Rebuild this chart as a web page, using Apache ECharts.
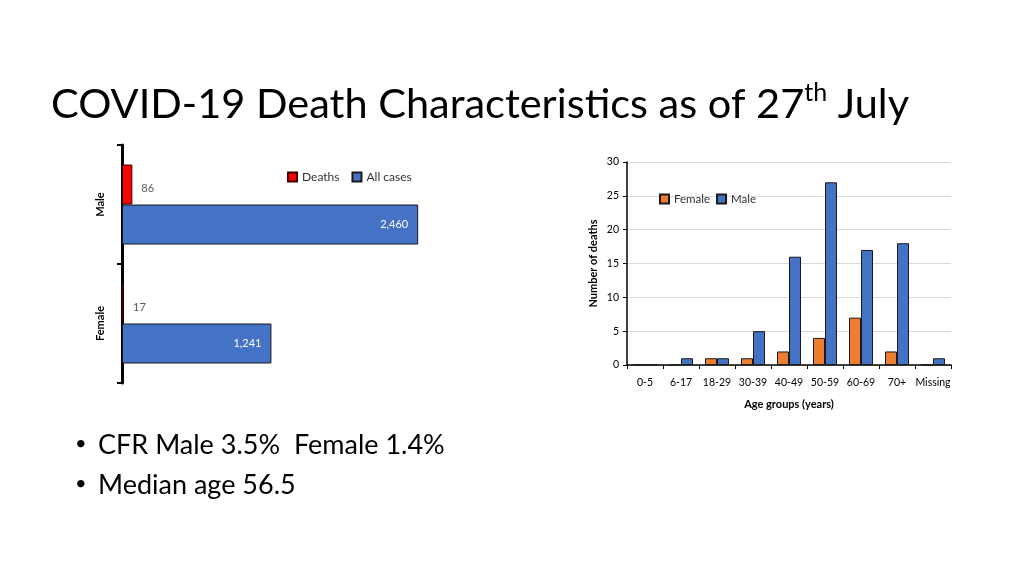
<!DOCTYPE html>
<html><head><meta charset="utf-8">
<script src="https://cdn.jsdelivr.net/npm/echarts@6/dist/echarts.min.js"></script>
<style>html,body{margin:0;padding:0;background:#fff}#c{width:1024px;height:576px}</style>
</head><body><div id="c"></div>
<script>
// Left chart: deaths vs all cases by sex
const sexCategories = ['Male', 'Female'];
const deathsBySex = [86, 17];
const allCasesBySex = [2460, 1241];
// Right chart: deaths by age group
const ageGroups = ['0-5', '6-17', '18-29', '30-39', '40-49', '50-59', '60-69', '70+', 'Missing'];
const femaleDeaths = [0, 0, 1, 1, 2, 4, 7, 2, 0];
const maleDeaths = [0, 1, 1, 5, 16, 27, 17, 18, 1];
const yTicksMax = 30, yTickStep = 5;
const bullets = ['CFR Male 3.5%  Female 1.4%', 'Median age 56.5'];

const FONT = 'Lato';
const fmt = v => Number(v).toLocaleString('en-US');
const chart = echarts.init(document.getElementById('c'), null, {renderer: 'canvas'});
chart.setOption({
  backgroundColor: '#fff',
  textStyle: {fontFamily: FONT},
  graphic: [
    {type: 'text', left: 51, top: 80, style: {
      text: '{a|COVID-19 Death Characteristics as of 27}{s|th}{a| July}',
      rich: {
        a: {fontFamily: FONT, fontSize: 41.5, fill: '#000', lineHeight: 50},
        s: {fontFamily: FONT, fontSize: 25, fill: '#000', verticalAlign: 'top', lineHeight: 50, padding: [0, 0, 20, 0]}
      }}},
    {type: 'text', left: 75, top: 434, style: {text: '•', font: '20px ' + FONT, fill: '#000'}},
    {type: 'text', left: 98, top: 432, style: {text: bullets[0], font: '27px ' + FONT, fill: '#000'}},
    {type: 'text', left: 75, top: 474, style: {text: '•', font: '20px ' + FONT, fill: '#000'}},
    {type: 'text', left: 98, top: 472, style: {text: bullets[1], font: '27px ' + FONT, fill: '#000'}}
  ],
  legend: [
    {data: ['Deaths', 'All cases'], left: 282, top: 166, itemWidth: 9, itemHeight: 9, itemGap: 12,
      textStyle: {fontSize: 12, color: '#333', fontFamily: FONT}, icon: 'rect'},
    {data: ['Female', 'Male'], left: 654, top: 188, itemWidth: 9, itemHeight: 9, itemGap: 6,
      textStyle: {fontSize: 11.5, color: '#333', fontFamily: FONT}, icon: 'rect'}
  ],
  grid: [
    {left: 122, top: 145, width: 301, height: 238},
    {left: 627, top: 162, width: 324, height: 203}
  ],
  xAxis: [
    {gridIndex: 0, type: 'value', min: 0, max: 2500, show: false},
    {gridIndex: 1, type: 'category', data: ageGroups,
      axisLine: {lineStyle: {color: '#000', width: 1.5}},
      axisTick: {show: true, length: 4, lineStyle: {color: '#000'}},
      axisLabel: {interval: 0, fontSize: 10.5, color: '#000', margin: 12, fontFamily: FONT},
      name: 'Age groups (years)', nameLocation: 'middle', nameGap: 34,
      nameTextStyle: {fontSize: 11, fontWeight: 'bold', color: '#000', fontFamily: FONT}}
  ],
  yAxis: [
    {gridIndex: 0, type: 'category', data: sexCategories, inverse: true,
      axisLine: {lineStyle: {color: '#000', width: 3}},
      axisTick: {show: true, length: 5, lineStyle: {color: '#000', width: 2}},
      axisLabel: {rotate: 90, fontSize: 11, fontWeight: 'bold', color: '#000', margin: 16, fontFamily: FONT}},
    {gridIndex: 1, type: 'value', min: 0, max: yTicksMax, interval: yTickStep,
      axisLine: {show: true, lineStyle: {color: '#000', width: 1.5}},
      axisTick: {show: true, length: 4, lineStyle: {color: '#000'}},
      splitLine: {lineStyle: {color: '#d9d9d9'}},
      axisLabel: {fontSize: 10.5, color: '#000', margin: 8, fontFamily: FONT},
      name: 'Number of deaths', nameLocation: 'middle', nameGap: 28,
      nameTextStyle: {fontSize: 11, fontWeight: 'bold', color: '#000', fontFamily: FONT}}
  ],
  series: [
    {name: 'Deaths', type: 'bar', xAxisIndex: 0, yAxisIndex: 0, data: deathsBySex, barWidth: 40, barGap: '0%',
      itemStyle: {color: '#ff0000', borderColor: '#3a0000', borderWidth: 1},
      label: {show: true, position: 'right', distance: 9, offset: [0, 4], color: '#595959', fontSize: 11, fontFamily: FONT, formatter: p => fmt(p.value)}},
    {name: 'All cases', type: 'bar', xAxisIndex: 0, yAxisIndex: 0, data: allCasesBySex, barWidth: 40, barGap: '0%',
      itemStyle: {color: '#4472c4', borderColor: '#1a1a1a', borderWidth: 1},
      label: {show: true, position: 'insideRight', distance: 10, color: '#fff', fontSize: 11, fontFamily: FONT, formatter: p => fmt(p.value)}},
    {name: 'Female', type: 'bar', xAxisIndex: 1, yAxisIndex: 1, data: femaleDeaths, barWidth: 12, barGap: '0%',
      itemStyle: {color: '#ed7d31', borderColor: '#1a1a1a', borderWidth: 1}},
    {name: 'Male', type: 'bar', xAxisIndex: 1, yAxisIndex: 1, data: maleDeaths, barWidth: 12, barGap: '0%',
      itemStyle: {color: '#4472c4', borderColor: '#1a1a1a', borderWidth: 1}}
  ]
});
</script></body></html>
